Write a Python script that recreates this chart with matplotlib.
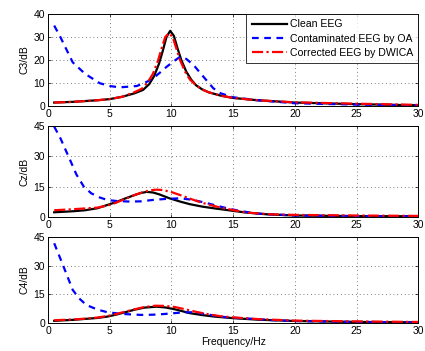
import matplotlib
matplotlib.use("Agg")
import matplotlib.pyplot as plt

plt.rcParams['font.family'] = ['Liberation Sans', 'DejaVu Sans']
plt.rcParams['font.size'] = 7.5

# C3 channel
c3_f_clean = [0.5, 2, 4, 5, 6, 7, 7.7, 8.2, 8.6, 9, 9.3, 9.6, 9.9, 10.2, 10.5, 10.8, 11.2, 11.6, 12, 12.5, 13, 14, 15, 17, 20, 25, 30]
c3_clean = [1.5, 1.8, 2.5, 3, 4, 5.5, 7, 9.5, 13, 18.5, 24, 30, 32.7, 30.5, 25, 20, 15, 11.5, 9, 7.2, 6, 4.5, 3.5, 2.5, 1.5, 0.8, 0.3]
c3_f_oa = [0.5, 1, 2, 3, 4.2, 5, 5.8, 7.2, 8, 8.5, 9, 9.6, 10.2, 10.7, 11.2, 11.8, 12.6, 13.4, 14, 15, 17, 20, 25, 30]
c3_oa = [35, 30, 19, 14, 9.9, 8.7, 8.1, 8.7, 10.5, 12, 14.2, 17, 19.5, 21.4, 20.5, 17.8, 12.7, 7.7, 5.5, 3.8, 2.5, 1.2, 0.6, 0.3]
c3_f_dw = [0.5, 2, 4, 5, 6, 7, 7.6, 8.1, 8.5, 8.9, 9.2, 9.5, 9.8, 10.1, 10.4, 10.7, 11.1, 11.5, 12, 12.5, 13, 14, 15, 17, 20, 25, 30]
c3_dw = [1.5, 1.8, 2.5, 3, 4, 6, 7.5, 10.5, 14, 19.5, 25, 30, 31.7, 30, 25, 20, 15, 11.5, 9, 7.2, 6, 4.5, 3.5, 2.5, 1.6, 1.0, 0.5]

# Cz channel
cz_f_clean = [0.5, 2, 3, 4, 4.8, 5.5, 6.2, 7, 7.5, 8, 8.5, 9, 9.8, 10.7, 11.5, 12.5, 13.4, 15, 16, 17.7, 20, 25, 30]
cz_clean = [2.3, 2.8, 3.3, 4.3, 5.9, 7.3, 9, 10.8, 11.8, 12.4, 12.1, 11.2, 9.3, 7.6, 6.3, 5.1, 4.3, 3, 2.2, 1.3, 0.7, 0.4, 0.3]
cz_f_oa = [0.5, 1, 1.8, 2.3, 2.9, 3.5, 4.2, 4.8, 5.5, 6.6, 7.5, 8.5, 9.5, 10.7, 11.7, 12.9, 13.7, 14.5, 15.5, 17, 20, 25, 30]
cz_oa = [44.7, 39, 28, 21, 15, 11.7, 9.6, 8.4, 7.9, 7.6, 7.7, 8.4, 8.9, 9.2, 8.5, 6.8, 5.5, 4.3, 3, 1.6, 0.7, 0.4, 0.3]
cz_f_dw = [0.5, 2, 3, 4, 4.8, 5.5, 6.2, 7, 7.7, 8.3, 8.8, 9.3, 10, 11, 11.8, 12.5, 13.2, 14, 15, 16, 18, 20, 25, 30]
cz_dw = [3.3, 3.8, 4.2, 4.6, 5.6, 7, 8.8, 10.8, 12.3, 13.2, 13.5, 13.3, 12.3, 10.2, 8.4, 7, 5.8, 4.6, 3.4, 2.2, 1.3, 1, 0.7, 0.5]

# C4 channel
c4_f_clean = [0.5, 2, 3, 4, 4.8, 5.5, 6.2, 7, 7.8, 8.8, 9.5, 10.3, 11.5, 12.5, 13.5, 15, 17, 20, 25, 30]
c4_clean = [1.1, 1.6, 2.1, 2.6, 3.3, 4.3, 5.5, 6.9, 8, 8.5, 8.1, 7.1, 5.1, 4.1, 3.3, 2.5, 1.7, 1, 0.5, 0.3]
c4_f_oa = [0.5, 1.2, 2, 2.5, 3.1, 4, 4.8, 6, 7.5, 8.5, 9.3, 10.2, 11, 11.8, 12.8, 13.9, 15, 17, 18, 20, 25, 30]
c4_oa = [41.7, 30.4, 17.3, 13, 9.4, 7, 5.6, 4.7, 4.2, 4.3, 4.6, 5.1, 5.5, 5.6, 4.6, 3.3, 2.7, 2, 1.5, 1, 0.5, 0.3]
c4_f_dw = [0.5, 2, 3, 4, 4.8, 5.5, 6.2, 7, 7.8, 8.7, 9.5, 10.3, 11, 12, 13, 14, 15, 17, 20, 25, 30]
c4_dw = [1.4, 1.8, 2.2, 2.8, 3.6, 4.6, 5.8, 7.1, 8.3, 9, 8.9, 8.3, 7.3, 5.8, 4.5, 3.5, 2.9, 2, 1.2, 0.8, 0.5]

labels = ["Clean EEG", "Contaminated EEG by OA", "Corrected EEG by DWICA"]

panels = [
    ("C3/dB", c3_f_clean, c3_clean, c3_f_oa, c3_oa, c3_f_dw, c3_dw, 40, [0, 10, 20, 30, 40]),
    ("Cz/dB", cz_f_clean, cz_clean, cz_f_oa, cz_oa, cz_f_dw, cz_dw, 45, [0, 15, 30, 45]),
    ("C4/dB", c4_f_clean, c4_clean, c4_f_oa, c4_oa, c4_f_dw, c4_dw, 45, [0, 15, 30, 45]),
]
boxes = [(0.113, 0.698, 0.871, 0.262), (0.113, 0.382, 0.871, 0.259), (0.113, 0.080, 0.871, 0.245)]

fig = plt.figure(figsize=(4.25, 3.51), dpi=100)
for i, (ylab, fc, yc, fo, yo, fd, yd, ymax, yt) in enumerate(panels):
    ax = fig.add_axes(boxes[i])
    ax.plot(fc, yc, color='black', lw=1.6, ls='-', label=labels[0])
    ax.plot(fo, yo, color='blue', lw=1.6, ls=(0, (3, 2.5)), label=labels[1])
    ax.plot(fd, yd, color='red', lw=1.6, ls=(0, (5, 1.5, 1, 1.5)), label=labels[2])
    ax.set_xlim(0, 30)
    ax.set_ylim(0, ymax)
    ax.set_yticks(yt)
    ax.set_xticks([0, 5, 10, 15, 20, 25, 30])
    ax.grid(True, ls=(0, (1, 3.5)), color='#555555', lw=0.6)
    ax.tick_params(direction='in', top=True, right=True, length=2.5, width=0.5, pad=2)
    for s in ax.spines.values():
        s.set_linewidth(0.7)
    ax.set_ylabel(ylab, labelpad=3)
    if i == 0:
        leg = ax.legend(loc='upper right', fancybox=False, edgecolor='black',
                        handlelength=3.3, borderaxespad=0.0, labelspacing=0.4,
                        borderpad=0.5, handletextpad=0.3, fontsize=7.6)
        leg.get_frame().set_linewidth(0.7)
    if i == 2:
        ax.set_xlabel("Frequency/Hz", labelpad=1)

fig.savefig("out.png", dpi=100)
